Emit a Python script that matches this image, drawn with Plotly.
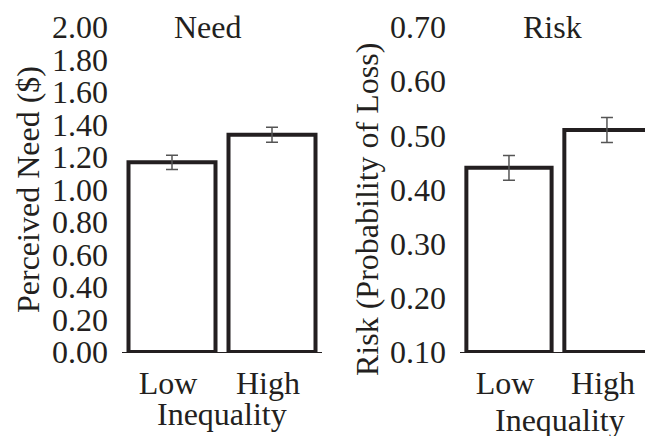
import plotly.graph_objects as go

categories = ["Low", "High"]
need_values = [1.167, 1.337]
need_err = [0.044, 0.046]
risk_values = [0.440, 0.510]
risk_err = [0.023, 0.023]
risk_base = 0.10

need_ticks = [0.0, 0.2, 0.4, 0.6, 0.8, 1.0, 1.2, 1.4, 1.6, 1.8, 2.0]
risk_ticks = [0.1, 0.2, 0.3, 0.4, 0.5, 0.6, 0.7]

FONT = "Liberation Serif, Times New Roman, serif"
INK = "#231f20"
# the page body adds an 8px margin; size the figure so it fills the 653x436 window
PAD = 8
W, H = 653 - PAD, 436 - PAD

def px(x):
    return (x - PAD) / W

def py(y):
    return 1 - (y - PAD) / H

fig = go.Figure()
bar_style = dict(marker=dict(color="white", line=dict(color=INK, width=4)),
                 width=0.87, showlegend=False)
err_style = dict(type="data", color="#555555", thickness=1.5, width=6)

fig.add_trace(go.Bar(x=[0, 1], y=need_values, error_y=dict(array=need_err, **err_style),
                     xaxis="x", yaxis="y", **bar_style))
fig.add_trace(go.Bar(x=[0, 1], y=[v - risk_base for v in risk_values], base=risk_base,
                     error_y=dict(array=risk_err, **err_style),
                     xaxis="x2", yaxis="y2", **bar_style))

ydom = [py(352), py(27)]
tickfont = dict(family=FONT, size=32, color=INK)
common_x = dict(tickmode="array", tickvals=[-0.04, 0.96], ticktext=categories,
                showline=True, linecolor=INK, linewidth=1, showgrid=False,
                zeroline=False, ticks="", tickfont=tickfont, ticklabelstandoff=3,
                fixedrange=True, automargin=False)
common_y = dict(showline=False, showgrid=False, zeroline=False, ticks="",
                tickfont=tickfont, ticklabelstandoff=13, automargin=False)

fig.update_layout(
    width=W, height=H,
    margin=dict(l=0, r=0, t=0, b=0, autoexpand=False),
    paper_bgcolor="white", plot_bgcolor="white",
    font=dict(family=FONT, color=INK),
    xaxis=dict(domain=[px(122), px(322)], range=[-0.5, 1.5], anchor="y", **common_x),
    yaxis=dict(domain=ydom, range=[0, 2.0], tickvals=need_ticks,
               ticktext=[f"{t:.2f}" for t in need_ticks], anchor="x", **common_y),
    xaxis2=dict(domain=[px(460), 1.0], range=[-0.5, 1.47], anchor="y2", **common_x),
    yaxis2=dict(domain=ydom, range=[0.1, 0.7], tickvals=risk_ticks,
                ticktext=[f"{t:.2f}" for t in risk_ticks], anchor="x2", **common_y),
)

def ann(text, x, y, angle=0):
    fig.add_annotation(text=text, x=px(x), y=py(y), xref="paper", yref="paper",
                       showarrow=False, textangle=angle, xanchor="center", yanchor="middle",
                       font=dict(family=FONT, size=32, color=INK))

ann("Need", 208, 27)
ann("Risk", 552, 27)
ann("Inequality", 222, 414)
ann("Inequality", 560, 420)
ann("Perceived Need ($)", 28, 190, -90)
ann("Risk (Probability of Loss)", 367, 210, -90)

fig.write_html("out.html")
